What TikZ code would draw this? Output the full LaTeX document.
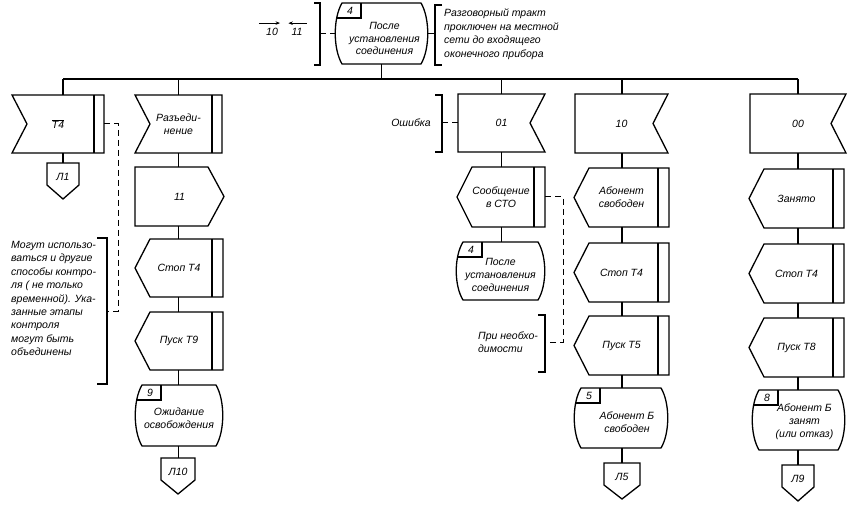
\documentclass[tikz,border=0pt]{standalone}
\usepackage{fontspec}
\setmainfont{Liberation Sans}
\usetikzlibrary{calc,arrows.meta}
\newcommand\mkbox[6]{\node[txt,minimum width={(#4-#2)*1pt},minimum height={(#5-#3)*1pt}] (#1) at ({(#2+#4)/2},{(#3+#5)/2}) {#6};}
\newcommand\InL[6]{% input: notch left, bar right
 \mkbox{#1}{#2}{#3}{#4}{#5}{#6}
 \draw[shp] (#2,#3) -- (#4,#3) -- (#4,#5) -- (#2,#5) -- ({#2+15},{(#3+#5)/2}) -- cycle;
 \draw[shp] ({#4-10},#3) -- ({#4-10},#5);}
\newcommand\InR[6]{% input: notch right
 \mkbox{#1}{#2}{#3}{#4}{#5}{#6}
 \draw[shp] (#2,#3) -- (#4,#3) -- ({#4-15},{(#3+#5)/2}) -- (#4,#5) -- (#2,#5) -- cycle;}
\newcommand\OutR[6]{% output: point right
 \mkbox{#1}{#2}{#3}{#4}{#5}{#6}
 \draw[shp] (#2,#3) -- ({#4-16},#3) -- (#4,{(#3+#5)/2}) -- ({#4-16},#5) -- (#2,#5) -- cycle;}
\newcommand\Task[6]{% point left, bar right
 \mkbox{#1}{#2}{#3}{#4}{#5}{#6}
 \draw[shp] ({#2+15},#3) -- (#4,#3) -- (#4,#5) -- ({#2+15},#5) -- (#2,{(#3+#5)/2}) -- cycle;
 \draw[shp] ({#4-11},#3) -- ({#4-11},#5);}
\newcommand\State[8]{%
 \node[inner sep=0pt,minimum width={(#4-#2)*1pt},minimum height={(#5-#3)*1pt}] (#1) at ({(#2+#4)/2},{(#3+#5)/2}) {};
 \draw[shp] ({#2+7},#3) -- ({#4-7},#3) .. controls ({#4+2},{#3+0.25*(#5-#3)}) and ({#4+2},{#5-0.25*(#5-#3)}) .. ({#4-7},#5) -- ({#2+7},#5) .. controls ({#2-2},{#5-0.25*(#5-#3)}) and ({#2-2},{#3+0.25*(#5-#3)}) .. ({#2+7},#3) -- cycle;
 \draw[shp] ({#2+1.5},{#3+15}) -- ({#2+26},{#3+15}) -- ({#2+26},#3);
 \node[txt] (#1n) at ({#2+15},{#3+8}) {#6};
 \node[txt] (#1t) at ($(#1)+(#8)$) {#7};}
\newcommand\Off[5]{%
 \node[txt,minimum width={(#4-#2)*1pt},minimum height=28pt] (#1) at ({(#2+#4)/2},{#3+14}) {#5};
 \draw[shp] (#2,#3) -- (#4,#3) -- (#4,{#3+22}) -- ({(#2+#4)/2},{#3+36}) -- (#2,{#3+22}) -- cycle;}
\begin{document}
\begin{tikzpicture}[x=1pt,y=-1pt,
  shp/.style={draw=black,line width=1.3pt,line join=miter},
  ln/.style={draw=black,line width=1.2pt},
  dsh/.style={draw=black,line width=1pt,dash pattern=on 6pt off 4pt},
  brk/.style={draw=black,line width=1.2pt},
  txt/.style={inner sep=0pt,align=center,font=\itshape\fontsize{10.5}{12.8}\selectfont},
  note/.style={inner sep=0pt,align=left,font=\itshape\fontsize{10.5}{13.4}\selectfont}]
\fill[white] (0,0) rectangle (853,510);
\useasboundingbox (0,0) rectangle (853,510);

% top state and its comments
\State{s0}{335}{3}{428}{64}{4}{После\\установления\\соединения}{3,5}
\node[txt] (n10) at (272,32) {10};
\node[txt] (n11) at (297,32) {11};
\draw[line width=0.9pt,-{Stealth[length=4.5pt,width=3.5pt]}] ($(n10.north west)+(-7,-5)$) -- ($(n10.north east)+(2,-5)$);
\draw[line width=0.9pt,-{Stealth[length=4.5pt,width=3.5pt]}] ($(n11.north east)+(4,-5)$) -- ($(n11.north west)+(-3,-5)$);
\draw[brk] (314,3) -- (320,3) -- (320,65) -- (314,65);
\coordinate (bk4) at (320,33.5);
\draw[dsh] (bk4) -- (s0.west);
\draw[brk] (442,5) -- (435,5) -- (435,65) -- (442,65);
\coordinate (bk5) at (435,33.5);
\draw[dsh] (s0.east) -- (bk5);
\node[note,anchor=north west] (tract) at (444,9) {Разговорный тракт\\проключен на местной\\сети до входящего\\оконечного прибора};

% column 1
\InL{t4}{12}{95}{104}{153}{$\overline{\hbox{T4}}$}
\Off{l1}{47}{163}{79}{Л1}
\draw[ln] (t4.south -| l1.north) -- (l1.north);
\node[note,anchor=north west] (cmt) at (11,241) {Могут использо-\\ваться и другие\\способы контро-\\ля ( не только\\временной). Ука-\\занные этапы\\контроля\\могут быть\\объединены};
\draw[brk] (97,238) -- (107,238) -- (107,384) -- (97,384);
\coordinate (bk1) at (107,311);
\draw[dsh] (t4.east) -- ++(14,0) |- (bk1);

% column 2
\InL{raz}{135}{95}{222}{153}{Разъеди-\\нение}
\OutR{o11}{135}{167}{224}{226}{11}
\Task{st2}{135}{239}{223}{297}{Стоп T4}
\Task{pk2}{135}{312}{223}{370}{Пуск T9}
\State{s9}{135}{385}{223}{446}{9}{Ожидание\\освобождения}{0,3}
\Off{l10}{161}{458}{195}{Л10}
\draw[ln] (raz.south) -- (o11.north -| raz);
\draw[ln] (o11.south -| raz) -- (st2.north -| raz);
\draw[ln] (st2.south -| raz) -- (pk2.north -| raz);
\draw[ln] (pk2.south -| raz) -- (s9.north -| raz);
\draw[ln] (s9.south -| raz) -- (l10.north -| raz);

% column 3
\InR{e01}{458}{94}{545}{152}{01}
\Task{sto}{457}{167}{545}{227}{Сообщение\\в СТО}
\State{s4}{456}{242}{545}{300}{4}{После\\установления\\соединения}{0,4}
\draw[ln] (e01.south) -- (e01.south |- sto.north);
\draw[ln] (sto.south -| e01) -- (s4.north -| e01);
\node[txt] (err) at (411,123) {Ошибка};
\draw[brk] (435,95) -- (442,95) -- (442,152) -- (435,152);
\coordinate (bk2) at (442,123);
\draw[dsh] (bk2) -- (e01.west);
\node[note] (need) at (508,342) {При необхо-\\димости};
\draw[brk] (538,315) -- (545,315) -- (545,372) -- (538,372);
\coordinate (bk3) at (545,342);
\draw[dsh] (sto.east) -- ++(18,0) |- (bk3);

% column 4
\InR{e10}{575}{94}{668}{153}{10}
\Task{ab}{574}{168}{669}{227}{Абонент\\свободен}
\Task{st4}{574}{243}{669}{302}{Стоп T4}
\Task{pk4}{574}{316}{669}{375}{Пуск T5}
\State{s5}{574}{388}{668}{448}{5}{Абонент Б\\свободен}{6,4}
\Off{l5}{604}{463}{640}{Л5}
\draw[ln] (e10.south -| l5) -- (ab.north -| l5);
\draw[ln] (ab.south -| l5) -- (st4.north -| l5);
\draw[ln] (st4.south -| l5) -- (pk4.north -| l5);
\draw[ln] (pk4.south -| l5) -- (s5.north -| l5);
\draw[ln] (s5.south -| l5) -- (l5.north);

% column 5
\InR{e00}{750}{94}{846}{153}{00}
\Task{zan}{749}{169}{844}{228}{Занято}
\Task{st5}{749}{244}{844}{303}{Стоп T4}
\Task{pk5}{749}{318}{844}{377}{Пуск T8}
\State{s8}{752}{390}{845}{450}{8}{Абонент Б\\занят\\(или отказ)}{6,2}
\Off{l9}{782}{465}{814}{Л9}
\draw[ln] (e00.south -| l9) -- (zan.north -| l9);
\draw[ln] (zan.south -| l9) -- (st5.north -| l9);
\draw[ln] (st5.south -| l9) -- (pk5.north -| l9);
\draw[ln] (pk5.south -| l9) -- (s8.north -| l9);
\draw[ln] (s8.south -| l9) -- (l9.north);

% bus
\coordinate (bus) at (0,79);
\draw[ln] (bus -| l1) -- (bus -| l9);
\draw[ln] (s0.south) -- (s0.south |- bus);
\draw[ln] (bus -| l1) -- (t4.north -| l1);
\draw[ln] (bus -| raz) -- (raz.north);
\draw[ln] (bus -| e01) -- (e01.north);
\draw[ln] (bus -| l5) -- (e10.north -| l5);
\draw[ln] (bus -| l9) -- (e00.north -| l9);
\end{tikzpicture}
\end{document}
